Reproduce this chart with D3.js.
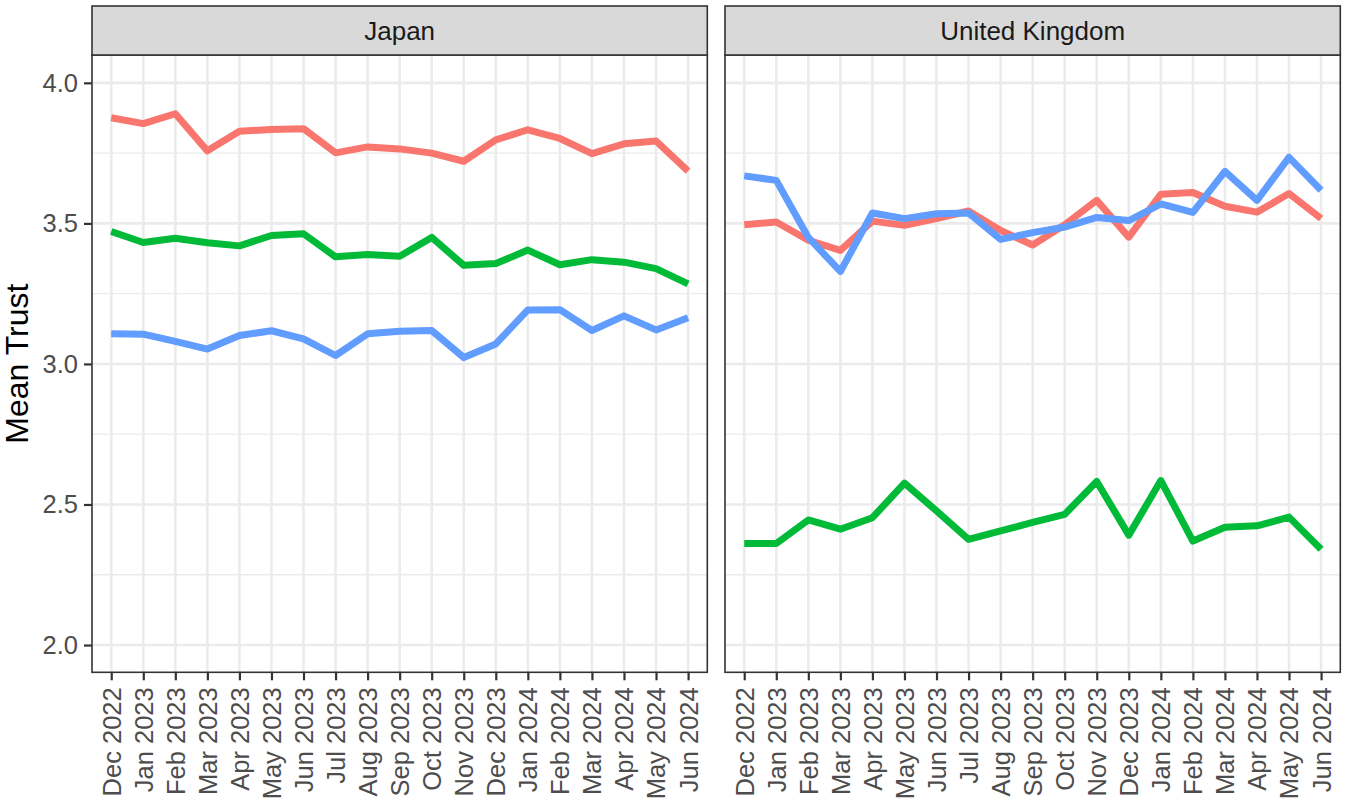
<!DOCTYPE html>
<html>
<head>
<meta charset="utf-8">
<script src="https://cdn.jsdelivr.net/npm/d3@7"></script>
<style>
  body { margin: 0; background: #fff; }
  text { font-family: "Liberation Sans", Arial, sans-serif; }
</style>
</head>
<body>
<script>
// Month labels on the x axis
var months = ["Dec 2022", "Jan 2023", "Feb 2023", "Mar 2023", "Apr 2023", "May 2023",
  "Jun 2023", "Jul 2023", "Aug 2023", "Sep 2023", "Oct 2023", "Nov 2023", "Dec 2023",
  "Jan 2024", "Feb 2024", "Mar 2024", "Apr 2024", "May 2024", "Jun 2024"];

var countries = ["Japan", "United Kingdom"];
var yTicks = [2.0, 2.5, 3.0, 3.5, 4.0];
var yMinor = [2.25, 2.75, 3.25, 3.75];

// Mean trust per month
var japanRed   = [3.876, 3.855, 3.890, 3.758, 3.828, 3.834, 3.837, 3.751, 3.772, 3.765, 3.750,
                  3.721, 3.797, 3.833, 3.802, 3.748, 3.783, 3.793, 3.686];
var japanGreen = [3.471, 3.432, 3.447, 3.431, 3.420, 3.457, 3.463, 3.381, 3.389, 3.383, 3.450,
                  3.351, 3.357, 3.405, 3.353, 3.371, 3.362, 3.339, 3.285];
var japanBlue  = [3.107, 3.106, 3.080, 3.053, 3.101, 3.118, 3.089, 3.030, 3.107, 3.116, 3.119,
                  3.023, 3.071, 3.192, 3.193, 3.119, 3.171, 3.121, 3.164];

var ukRed   = [3.495, 3.505, 3.440, 3.404, 3.508, 3.493, 3.517, 3.544, 3.475, 3.423, 3.495,
               3.582, 3.451, 3.604, 3.610, 3.561, 3.540, 3.606, 3.517];
var ukGreen = [2.361, 2.361, 2.445, 2.412, 2.453, 2.576, 2.477, 2.376, 2.406, 2.436, 2.465,
               2.582, 2.391, 2.585, 2.370, 2.419, 2.424, 2.455, 2.341];
var ukBlue  = [3.669, 3.653, 3.450, 3.329, 3.537, 3.517, 3.534, 3.537, 3.443, 3.467, 3.487,
               3.521, 3.510, 3.569, 3.539, 3.685, 3.582, 3.735, 3.618];

var seriesColors = ["#F8766D", "#00BA38", "#619CFF"];
var panelSeries = [[japanRed, japanGreen, japanBlue], [ukRed, ukGreen, ukBlue]];

// Overall size and panel placement
var width = 1370, height = 812;
var panelTop = 55, panelBottom = 672.3, stripTop = 6;
var panelLeft = [92, 725], panelWidth = 615.3;
var axisFont = "25.5px", stripFont = "26px", titleFont = "32px";

var svg = d3.select("body").append("svg")
    .attr("width", width)
    .attr("height", height);

var y = d3.scaleLinear()
    .domain([1.903, 4.099])
    .range([panelBottom, panelTop]);

var x = d3.scalePoint()
    .domain(months)
    .range([0, panelWidth])
    .padding(0.6);

var line = d3.line()
    .x(function(d) { return x(d.month); })
    .y(function(d) { return y(d.value); });

countries.forEach(function(country, p) {
  var g = svg.append("g")
      .attr("transform", "translate(" + panelLeft[p] + ",0)");

  // minor grid
  g.selectAll("line.minor")
    .data(yMinor)
    .enter().append("line")
      .attr("class", "minor")
      .attr("x1", 0).attr("x2", panelWidth)
      .attr("y1", function(d) { return y(d); })
      .attr("y2", function(d) { return y(d); })
      .attr("stroke", "#EBEBEB")
      .attr("stroke-width", 1.3);

  // major grid
  g.selectAll("line.hmajor")
    .data(yTicks)
    .enter().append("line")
      .attr("class", "hmajor")
      .attr("x1", 0).attr("x2", panelWidth)
      .attr("y1", function(d) { return y(d); })
      .attr("y2", function(d) { return y(d); })
      .attr("stroke", "#EBEBEB")
      .attr("stroke-width", 2.6);

  g.selectAll("line.vmajor")
    .data(months)
    .enter().append("line")
      .attr("class", "vmajor")
      .attr("x1", function(d) { return x(d); })
      .attr("x2", function(d) { return x(d); })
      .attr("y1", panelTop).attr("y2", panelBottom)
      .attr("stroke", "#EBEBEB")
      .attr("stroke-width", 2.6);

  // lines
  panelSeries[p].forEach(function(values, s) {
    var data = values.map(function(v, i) { return {month: months[i], value: v}; });
    g.append("path")
        .datum(data)
        .attr("fill", "none")
        .attr("stroke", seriesColors[s])
        .attr("stroke-width", 7)
        .attr("stroke-linejoin", "round")
        .attr("stroke-linecap", "butt")
        .attr("d", line);
  });

  // panel border
  g.append("rect")
      .attr("x", 0).attr("y", panelTop)
      .attr("width", panelWidth).attr("height", panelBottom - panelTop)
      .attr("fill", "none")
      .attr("stroke", "#333333")
      .attr("stroke-width", 1.6);

  // strip
  g.append("rect")
      .attr("x", 0).attr("y", stripTop)
      .attr("width", panelWidth).attr("height", panelTop - stripTop)
      .attr("fill", "#D9D9D9")
      .attr("stroke", "#333333")
      .attr("stroke-width", 1.6);

  g.append("text")
      .attr("x", panelWidth / 2)
      .attr("y", (stripTop + panelTop) / 2)
      .attr("dy", "0.35em")
      .attr("text-anchor", "middle")
      .attr("fill", "#1A1A1A")
      .style("font-size", stripFont)
      .text(country);

  // x axis
  var xAxis = g.append("g")
      .attr("transform", "translate(0," + panelBottom + ")")
      .call(d3.axisBottom(x).tickSize(8).tickPadding(8));
  xAxis.select(".domain").remove();
  xAxis.selectAll(".tick line")
      .attr("stroke", "#333333")
      .attr("stroke-width", 2.2);
  xAxis.selectAll(".tick text")
      .attr("fill", "#4D4D4D")
      .style("font-size", axisFont)
      .attr("text-anchor", "end")
      .attr("transform", "rotate(-90)")
      .attr("x", -15)
      .attr("y", 0)
      .attr("dy", "0.35em");

  // y axis only on the first panel
  if (p === 0) {
    var yAxis = g.append("g")
        .call(d3.axisLeft(y).tickValues(yTicks).tickSize(8).tickPadding(6)
          .tickFormat(d3.format(".1f")));
    yAxis.select(".domain").remove();
    yAxis.selectAll(".tick line")
        .attr("stroke", "#333333")
        .attr("stroke-width", 2.2);
    yAxis.selectAll(".tick text")
        .attr("fill", "#4D4D4D")
        .style("font-size", axisFont);
  }
});

// y axis title
svg.append("text")
    .attr("transform", "translate(28," + (panelTop + panelBottom) / 2 + ") rotate(-90)")
    .attr("text-anchor", "middle")
    .attr("fill", "#000")
    .style("font-size", titleFont)
    .text("Mean Trust");
</script>
</body>
</html>
